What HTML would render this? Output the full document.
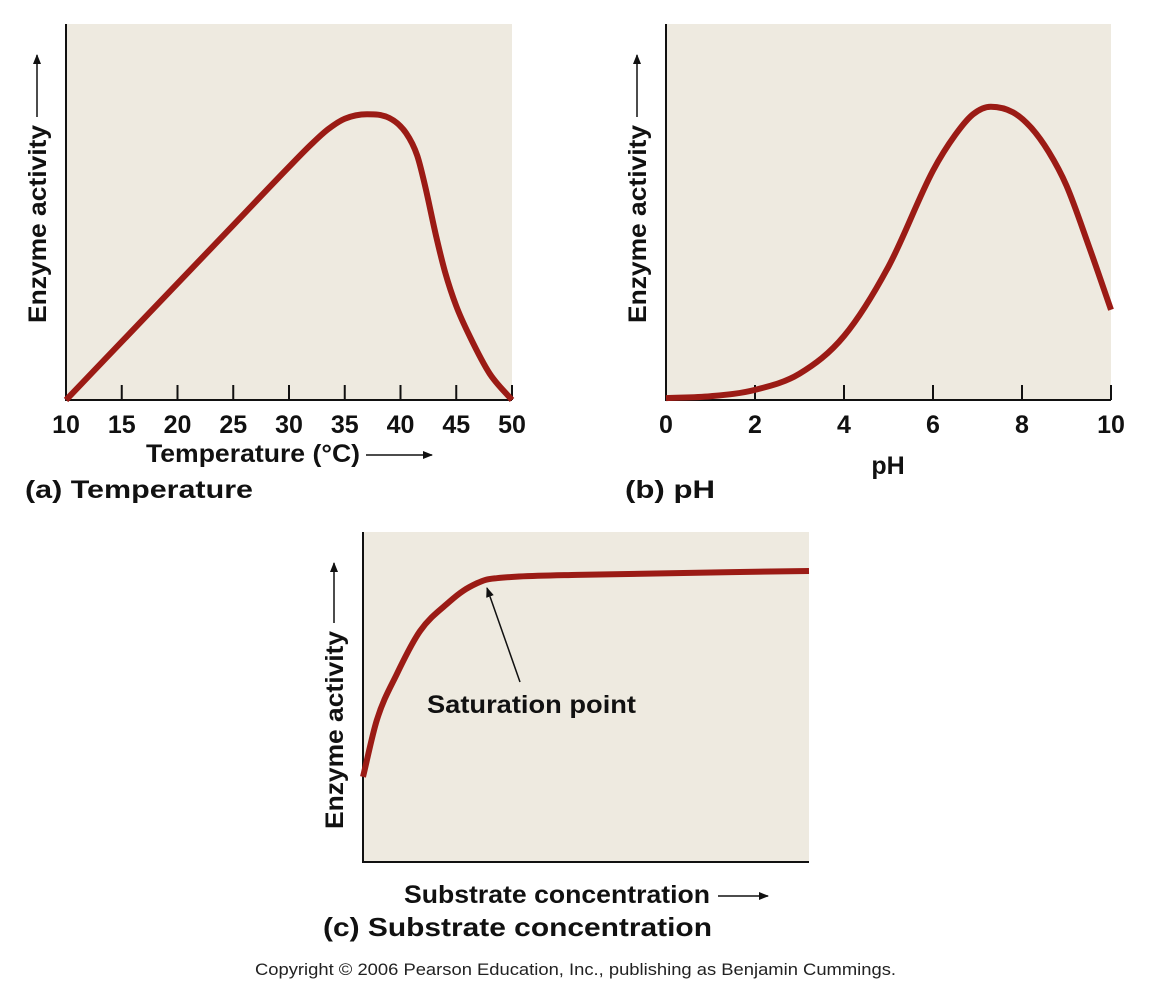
<!DOCTYPE html>
<html><head><meta charset="utf-8"><style>
html,body{margin:0;padding:0;background:#fff;}
svg{display:block;font-family:"Liberation Sans",sans-serif;}
.b{font-weight:bold;fill:#111;}
</style></head><body>
<svg id="s" width="1150" height="1002" viewBox="0 0 1150 1002">
<defs><marker id="ah" markerWidth="10" markerHeight="8" refX="9" refY="4" orient="auto" markerUnits="userSpaceOnUse"><path d="M0,0 L10,4 L0,8 Z" fill="#111"/></marker></defs>
<g id="pa"></g>
<g id="pb"></g>
<g id="pc"></g>
<text x="255" y="975" font-size="17" fill="#222" textLength="641" lengthAdjust="spacingAndGlyphs">Copyright © 2006 Pearson Education, Inc., publishing as Benjamin Cummings.</text>
</svg>
<script>
// Panel (a) temperature
const tempX = [10,15,20,25,30,32,33.5,35,37,39,40.5,41.5,42.2,43.2,44,45,46.2,48,50];
const tempY = [0,15.5,31,46.5,62,68,72,74.8,76,75,71,65,57,43.5,34,25,17,7,0];
const tempTicks = [10,15,20,25,30,35,40,45,50];
// Panel (b) pH
const phX = [0,1,2,3,4,5,6,6.5,6.9,7.3,7.8,8.2,8.6,9,9.5,10];
const phY = [0.5,1,2.7,7,17,35.5,61,70.5,76,78,76.5,72.5,66,57,41,24];
const phTicks = [0,2,4,6,8,10];
// Panel (c) substrate
const subX = [0,3.1,7.6,12.8,19.5,22.5,25.6,27.5,30,35,48,100];
const subY = [25.8,43,57,70,79,82.2,84.5,85.5,86,86.5,87,88.2];

const NS='http://www.w3.org/2000/svg';
function mk(parent,tag,attrs,text){const e=document.createElementNS(NS,tag);for(const k in attrs)e.setAttribute(k,attrs[k]);if(text!==undefined)e.textContent=text;parent.appendChild(e);return e;}
function monotone(p){
  const n=p.length,d=[],m=[];
  for(let i=0;i<n-1;i++)d.push((p[i+1][1]-p[i][1])/(p[i+1][0]-p[i][0]));
  m[0]=d[0];m[n-1]=d[n-2];
  for(let i=1;i<n-1;i++){m[i]=(d[i-1]*d[i]<=0)?0:(d[i-1]+d[i])/2;}
  for(let i=0;i<n-1;i++){if(d[i]===0){m[i]=0;m[i+1]=0;continue;}const a=m[i]/d[i],b=m[i+1]/d[i],s=a*a+b*b;if(s>9){const t=3/Math.sqrt(s);m[i]=t*a*d[i];m[i+1]=t*b*d[i];}}
  let s='M'+p[0][0]+','+p[0][1];
  for(let i=0;i<n-1;i++){const h=(p[i+1][0]-p[i][0])/3;s+=' C'+(p[i][0]+h)+','+(p[i][1]+m[i]*h)+' '+(p[i+1][0]-h)+','+(p[i+1][1]-m[i+1]*h)+' '+p[i+1][0]+','+p[i+1][1];}
  return s;
}
function panel(g,x0,x1,y0,y1,xmin,xmax,xs,ys,ticks,name){
  const sx=v=>x0+(v-xmin)/(xmax-xmin)*(x1-x0);
  const sy=v=>y1-v/100*(y1-y0);
  const bg=mk(g,'rect',{x:x0,y:y0,width:x1-x0,height:y1-y0,fill:'#eeeae0'});
  
  
  const ax=mk(g,'path',{d:`M${x0},${y0} L${x0},${y1} L${x1},${y1}`,fill:'none',stroke:'#111','stroke-width':2});
  
  
  ticks.forEach(t=>{
    const tk=mk(g,'line',{x1:sx(t),x2:sx(t),y1:y1-15,y2:y1,stroke:'#111','stroke-width':2});
    
    
    const lb=mk(g,'text',{x:sx(t),y:y1+33,'text-anchor':'middle','font-size':25,class:'b'},t);
    
    
  });
  const pts=xs.map((v,i)=>[sx(v),sy(ys[i])]);
  const c=mk(g,'path',{d:monotone(pts),fill:'none',stroke:'#9b1b15','stroke-width':6,'stroke-linecap':'butt','stroke-linejoin':'round'});
  
  
  return {sx,sy};
}
function ylabel(g,x,ybot,ytop,len){
  const t=mk(g,'text',{transform:`translate(${x},${ybot}) rotate(-90)`,'font-size':25,class:'b',textLength:len,lengthAdjust:'spacingAndGlyphs'},'Enzyme activity');
  
  
  const a=mk(g,'line',{x1:x-9,y1:ybot-len-8,x2:x-9,y2:ytop,stroke:'#111','stroke-width':1.5,'marker-end':'url(#ah)'});
  
  
}
function txt(g,attrs,s,name){
  attrs['lengthAdjust']='spacingAndGlyphs';
  const t=mk(g,'text',attrs,s);
  
  
  return t;
}
const pa=document.getElementById('pa'),pb=document.getElementById('pb'),pc=document.getElementById('pc');
panel(pa,66,512,24,400,10,50,tempX,tempY,tempTicks,'temperature-curve');
ylabel(pa,46,323,55,198);
let t;
txt(pa,{x:146,y:462,'font-size':25,class:'b',textLength:214},'Temperature (°C)','x-axis-title');
t=mk(pa,'line',{x1:366,y1:455,x2:432,y2:455,stroke:'#111','stroke-width':1.5,'marker-end':'url(#ah)'});


txt(pa,{x:25,y:498,'font-size':25,class:'b',textLength:228},'(a)  Temperature','panel-a-caption');

panel(pb,666,1111,24,400,0,10,phX,phY,phTicks,'ph-curve');
ylabel(pb,646,323,55,198);
t=mk(pb,'text',{x:888,y:474,'font-size':25,class:'b','text-anchor':'middle'},'pH');


txt(pb,{x:625,y:498,'font-size':25,class:'b',textLength:90},'(b)  pH','panel-b-caption');

panel(pc,363,809,532,862,0,100,subX,subY,[],'substrate-curve');
ylabel(pc,343,829,563,198);
t=mk(pc,'line',{x1:520,y1:682,x2:487,y2:588,stroke:'#111','stroke-width':1.5,'marker-end':'url(#ah)'});


txt(pc,{x:427,y:713,'font-size':25,class:'b',textLength:209},'Saturation point','saturation-label');
txt(pc,{x:404,y:903,'font-size':25,class:'b',textLength:306},'Substrate concentration','x-axis-title');
t=mk(pc,'line',{x1:718,y1:896,x2:768,y2:896,stroke:'#111','stroke-width':1.5,'marker-end':'url(#ah)'});


txt(pc,{x:323,y:936,'font-size':26,class:'b',textLength:389},'(c)  Substrate concentration','panel-c-caption');
</script>
</body></html>
